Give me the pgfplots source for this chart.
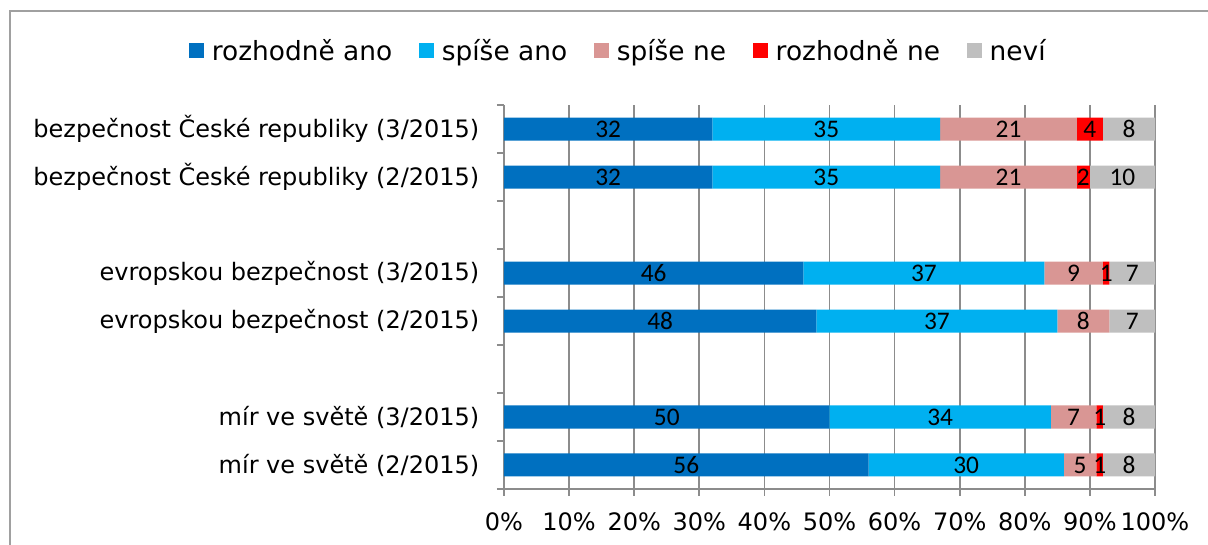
\documentclass[border=0pt]{standalone}
\usepackage{pgfplots}
\pgfplotsset{compat=1.18}
\usepackage{pgfplotstable}
\usepackage{fontspec}
\setmainfont{DejaVu Sans}
\newfontfamily\calibri{Carlito}
\definecolor{c1}{HTML}{0070C0}
\definecolor{c2}{HTML}{00B0F0}
\definecolor{c3}{HTML}{D99694}
\definecolor{c4}{HTML}{FF0000}
\definecolor{c5}{HTML}{BFBFBF}
\definecolor{axgray}{HTML}{8C8C8C}
\definecolor{framegray}{HTML}{A0A0A0}
\pgfplotstableread{
pos a b c d e
1 32 35 21 4 8
2 32 35 21 2 10
4 46 37 9 1 7
5 48 37 8 0 7
7 50 34 7 1 8
8 56 30 5 1 8
}\datatable
\pgfplotsset{
  frameaxis/.style={
    at={(378pt,42pt)}, anchor=south west,
    scale only axis, width=488.25pt, height=288pt,
    xmin=0, xmax=100, ymin=0.5, ymax=8.5, y dir=reverse,
  },
  lbl/.style={draw=none, mark=none, point meta=explicit,
    nodes near coords={\pgfmathfloatifflags{\pgfplotspointmeta}{0}{}{\pgfmathprintnumber{\pgfplotspointmeta}}},
    every node near coord/.append style={anchor=center, font=\calibri\fontsize{19}{20}\selectfont, text=black, inner sep=0pt},
  },
}
\begin{document}
\begin{tikzpicture}
\useasboundingbox (0,0) rectangle (906pt,408.75pt);
\draw[color=framegray, line width=1.5pt] (7.5pt,-30pt) -- (7.5pt,400.5pt) -- (940pt,400.5pt);
\begin{axis}[
  frameaxis,
  xbar stacked, bar width=17.25pt,
  axis x line*=bottom, axis y line*=left,
  axis line style={axgray, line width=1.2pt},
  every tick/.style={axgray, line width=1.2pt},
  xmajorgrids=true,
  grid style={axgray, line width=1.2pt},
  xtick={0,10,...,100},
  xticklabels={0\%,10\%,20\%,30\%,40\%,50\%,60\%,70\%,80\%,90\%,100\%},
  xticklabel style={yshift=-9pt},
  ytick={0.5,1.5,...,8.5},
  yticklabels={},
  extra y ticks={1,2,4,5,7,8},
  extra y tick labels={bezpečnost České republiky (3/2015),bezpečnost České republiky (2/2015),evropskou bezpečnost (3/2015),evropskou bezpečnost (2/2015),mír ve světě (3/2015),mír ve světě (2/2015)},
  extra y tick style={major tick length=0pt, tick style={draw=none}, yticklabel style={xshift=-15pt}},
  tick align=outside,
  major tick length=5.25pt,
  tick label style={font=\fontsize{18}{21}\selectfont, text=black},
  legend style={draw=none, fill=none, at={(0.176,1.142)}, anchor=center, legend columns=5, font=\fontsize{19.8}{22}\selectfont, /tikz/every even column/.append style={column sep=18pt}, /tikz/every odd column/.append style={column sep=4pt}, inner sep=0pt},
  legend image code/.code={\fill[#1] (0pt,-5.6pt) rectangle (11.25pt,5.6pt);},
]
\addplot[fill=c1, draw=none] table[x=a, y=pos] {\datatable};
\addplot[fill=c2, draw=none] table[x=b, y=pos] {\datatable};
\addplot[fill=c3, draw=none] table[x=c, y=pos] {\datatable};
\addplot[fill=c4, draw=none] table[x=d, y=pos] {\datatable};
\addplot[fill=c5, draw=none] table[x=e, y=pos] {\datatable};
\legend{rozhodně ano,spíše ano,spíše ne,rozhodně ne,neví}
\end{axis}
\begin{axis}[frameaxis, hide axis, /pgf/number format/assume math mode=true]
\addplot[lbl] table[x expr=\thisrow{a}/2, y=pos, meta=a] {\datatable};
\addplot[lbl] table[x expr=\thisrow{a}+\thisrow{b}/2, y=pos, meta=b] {\datatable};
\addplot[lbl] table[x expr=\thisrow{a}+\thisrow{b}+\thisrow{c}/2, y=pos, meta=c] {\datatable};
\addplot[lbl] table[x expr=\thisrow{a}+\thisrow{b}+\thisrow{c}+\thisrow{d}/2, y=pos, meta=d] {\datatable};
\addplot[lbl] table[x expr=\thisrow{a}+\thisrow{b}+\thisrow{c}+\thisrow{d}+\thisrow{e}/2, y=pos, meta=e] {\datatable};
\end{axis}
\end{tikzpicture}
\end{document}
